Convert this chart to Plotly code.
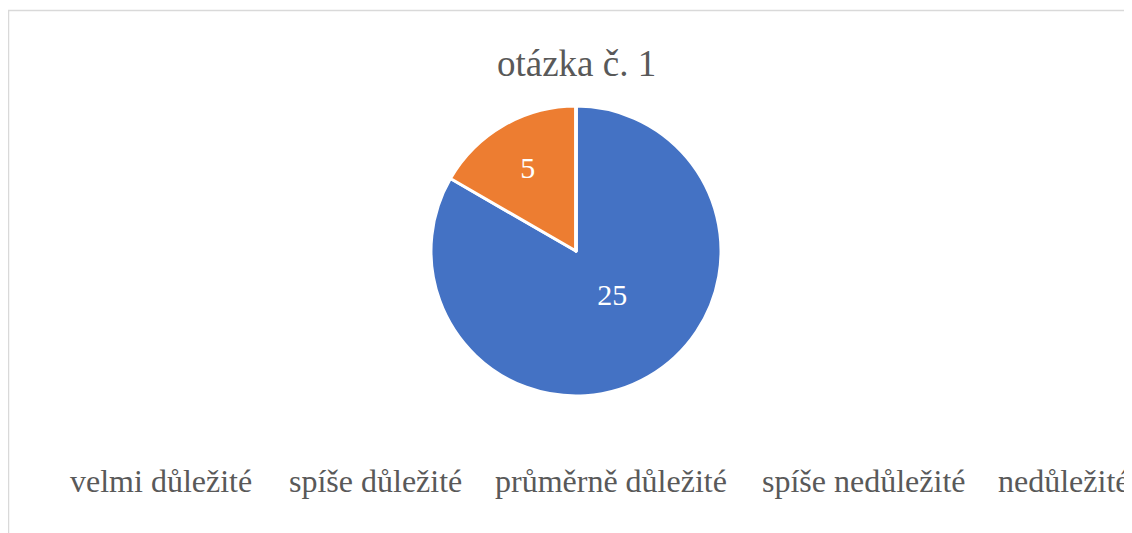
import plotly.graph_objects as go

categories = ["velmi důležité", "spíše důležité", "průměrně důležité", "spíše nedůležité", "nedůležité"]
values = [25, 5, 0, 0, 0]
colors = ["#4472C4", "#ED7D31", "#A5A5A5", "#FFC000", "#5B9BD5"]
title_text = "otázka č. 1"

W, H = 1132, 533
OFF = 8  # page body margin offset
SERIF = "Liberation Serif"

def px(x):
    return (x - OFF) / W

def py(y):
    return 1 - (y - OFF) / H

legend_left = [68, 287, 493, 760, 996]

label_tpl = []
for i, v in enumerate(values):
    if v <= 0:
        label_tpl.append("")
    elif i == 0:
        label_tpl.append("%{value}<br> ")
    else:
        label_tpl.append("%{value}")

fig = go.Figure()
fig.add_trace(go.Pie(
    labels=categories,
    values=values,
    sort=False,
    direction="clockwise",
    rotation=0,
    marker=dict(colors=colors, line=dict(color="white", width=3)),
    texttemplate=label_tpl,
    textposition="inside",
    insidetextorientation="horizontal",
    textfont=dict(family=SERIF, size=30, color="white"),
    domain=dict(x=[px(431), px(721)], y=[py(396), py(106)]),
    showlegend=False,
    hoverinfo="label+value",
))

annotations = [
    dict(text=title_text, x=px(576), y=py(63), xref="paper", yref="paper",
         xanchor="center", yanchor="middle", showarrow=False,
         font=dict(family=SERIF, size=37, color="#595959"))
]
for name, lx in zip(categories, legend_left):
    annotations.append(dict(text=name, x=px(lx), y=py(481), xref="paper", yref="paper",
                            xanchor="left", yanchor="middle", showarrow=False,
                            font=dict(family=SERIF, size=32, color="#595959")))

fig.update_layout(
    width=W, height=H,
    margin=dict(l=0, r=0, t=0, b=0),
    font=dict(family=SERIF),
    paper_bgcolor="white",
    plot_bgcolor="white",
    annotations=annotations,
    shapes=[dict(type="rect", xref="paper", yref="paper",
                 x0=px(8.5), x1=1.05, y0=-0.05, y1=py(10.5),
                 line=dict(color="#D9D9D9", width=1.5), fillcolor="rgba(0,0,0,0)", layer="below")],
)

fig.write_html("out.html")
